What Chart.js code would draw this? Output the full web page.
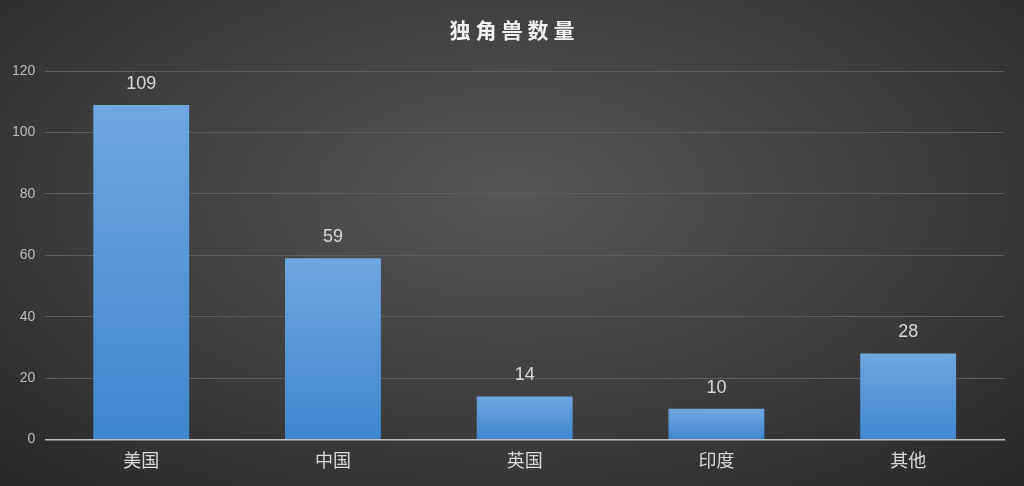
<!DOCTYPE html>
<html>
<head>
<meta charset="utf-8">
<script src="https://cdn.jsdelivr.net/npm/chart.js@4/dist/chart.umd.min.js"></script>
<style>
  html, body { margin: 0; padding: 0; }
  body {
    width: 1024px; height: 486px; overflow: hidden;
    background: radial-gradient(ellipse 75% 85% at 50% 40%, #575757 0%, #3a3a3a 60%, #262626 100%);
  }
  #wrap { position: relative; width: 1024px; height: 486px; }
</style>
</head>
<body>
<div id="wrap"><canvas id="myChart" width="1024" height="486"></canvas></div>
<script>
// chart data
const countries = ["美国", "中国", "英国", "印度", "其他"];
const unicorns = [109, 59, 14, 10, 28];
const yTicks = [0, 20, 40, 60, 80, 100, 120];
const chartTitle = "独角兽数量";

const fontFamily = "'Liberation Sans', 'Noto Sans CJK SC', sans-serif";

// write the value above every bar, and the spaced-out title
const valueLabels = {
  id: 'valueLabels',
  afterDatasetsDraw(chart) {
    const ctx = chart.ctx;
    const meta = chart.getDatasetMeta(0);
    ctx.save();
    ctx.fillStyle = '#d9d9d9';
    ctx.font = '18px ' + fontFamily;
    ctx.textAlign = 'center';
    ctx.textBaseline = 'middle';
    meta.data.forEach(function (bar, i) {
      ctx.fillText(chart.data.datasets[0].data[i], bar.x, bar.y - 21);
    });
    ctx.restore();
  },
  afterDraw(chart) {
    const ctx = chart.ctx;
    const t = chart.titleBlock;
    ctx.save();
    ctx.fillStyle = '#f2f2f2';
    ctx.font = 'bold 21px ' + fontFamily;
    ctx.letterSpacing = '5px';
    ctx.textAlign = 'center';
    ctx.textBaseline = 'middle';
    ctx.fillText(chartTitle, chart.width / 2 + 2.5, t.top + 20 + 12.6);
    ctx.restore();
  }
};

// light-to-dark blue for each bar, from its top to the axis
function barFill(context) {
  const chart = context.chart;
  const y = chart.scales.y;
  if (!y || context.raw === undefined) return '#5b9bd5';
  const top = y.getPixelForValue(context.raw);
  const bottom = y.getPixelForValue(0);
  if (!isFinite(top) || !isFinite(bottom) || top === bottom) return '#5b9bd5';
  const g = chart.ctx.createLinearGradient(0, top, 0, bottom);
  g.addColorStop(0, '#6fa7e0');
  g.addColorStop(1, '#3f87cf');
  return g;
}

var ctx = document.getElementById('myChart').getContext('2d');
var myChart = new Chart(ctx, {
  type: 'bar',
  data: {
    labels: countries,
    datasets: [{
      label: chartTitle,
      data: unicorns,
      backgroundColor: barFill,
      borderWidth: 0,
      barPercentage: 0.5,
      categoryPercentage: 1.0
    }]
  },
  options: {
    responsive: false,
    animation: false,
    devicePixelRatio: 1,
    layout: { padding: { left: 2, right: 20, top: 0, bottom: 1 } },
    plugins: {
      legend: { display: false },
      tooltip: { enabled: false },
      title: {
        // kept for the layout; the visible title is drawn by the plugin
        display: true,
        text: chartTitle,
        color: 'rgba(0,0,0,0)',
        font: { family: fontFamily, size: 21, weight: 'bold', lineHeight: 1.2 },
        padding: { top: 20, bottom: 26 }
      }
    },
    scales: {
      x: {
        grid: { display: false, drawTicks: false },
        border: { display: true, color: '#bfbfbf', width: 1.5 },
        ticks: {
          color: '#d9d9d9',
          padding: 12,
          font: { family: fontFamily, size: 18 }
        }
      },
      y: {
        min: 0,
        max: 120,
        afterBuildTicks: function (axis) {
          axis.ticks = yTicks.map(function (v) { return { value: v }; });
        },
        grid: { color: '#5e5e5e', lineWidth: 1, drawTicks: false },
        border: { display: false },
        ticks: {
          color: '#bfbfbf',
          padding: 10,
          font: { family: fontFamily, size: 14 }
        }
      }
    }
  },
  plugins: [valueLabels]
});
myChart.update();
</script>
</body>
</html>
